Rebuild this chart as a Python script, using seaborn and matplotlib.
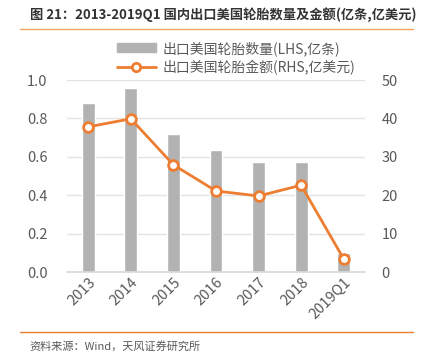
import matplotlib
matplotlib.use("Agg")
import matplotlib.pyplot as plt
import seaborn as sns
import pandas as pd
from matplotlib.lines import Line2D
from matplotlib.patches import Patch

# データ
years = ['2013', '2014', '2015', '2016', '2017', '2018', '2019Q1']
qty = [0.88, 0.957, 0.72, 0.635, 0.575, 0.575, 0.10]      # 亿条
amount = [37.8, 39.9, 27.9, 21.1, 19.8, 22.6, 3.4]      # 亿美元

sns.set_theme(style="white")
plt.rcParams['font.family'] = ['Noto Sans CJK SC', 'DejaVu Sans']

df = pd.DataFrame({'year': years, 'qty': qty, 'amount': amount})

fig = plt.figure(figsize=(4.22, 3.58), dpi=100)
ax = fig.add_axes([67 / 422, 1 - 272 / 358, 298 / 422, 192 / 358])

grey = '#B2B2B2'
orange = '#ED7D31'
tick_c = '#595959'

sns.barplot(data=df, x='year', y='qty', color=grey, width=0.3,
            saturation=1, ax=ax, zorder=2)
ax.set_ylim(0, 1.0)
ax.set_yticks([0, 0.2, 0.4, 0.6, 0.8, 1.0])
ax.set_yticklabels([f"{v:.1f}" for v in [0, 0.2, 0.4, 0.6, 0.8, 1.0]])
ax.grid(axis='y', color='#E3E3E3', lw=1, zorder=0)
ax.set_axisbelow(True)
ax.set_xlabel('')
ax.set_ylabel('')
for s in ['top', 'right', 'left']:
    ax.spines[s].set_visible(False)
ax.spines['bottom'].set_color('#D9D9D9')
ax.tick_params(axis='y', colors=tick_c, labelsize=10.5, length=0, pad=14)
ax.tick_params(axis='x', colors=tick_c, labelsize=10.5, length=0, pad=2)
for lbl in ax.get_xticklabels():
    lbl.set_rotation(45)
    lbl.set_ha('right')
    lbl.set_rotation_mode('anchor')

ax2 = ax.twinx()
sns.lineplot(data=df, x='year', y='amount', color=orange, lw=2,
             marker='o', markersize=7, markerfacecolor='white',
             markeredgecolor=orange, markeredgewidth=2, ax=ax2, zorder=3)
ax2.set_ylim(0, 50)
ax2.set_yticks([0, 10, 20, 30, 40, 50])
ax2.set_ylabel('')
for s in ['top', 'right', 'left', 'bottom']:
    ax2.spines[s].set_visible(False)
ax2.tick_params(axis='y', colors=tick_c, labelsize=10.5, length=0, pad=12)
ax.set_xlim(-0.5, len(years) - 0.5)

# 凡例
handles = [Patch(color=grey, label='出口美国轮胎数量(LHS,亿条)'),
           Line2D([0], [0], color=orange, lw=2, marker='o', markersize=6,
                  markerfacecolor='white', markeredgecolor=orange,
                  markeredgewidth=2, label='出口美国轮胎金额(RHS,亿美元)')]
fig.legend(handles=handles, loc='upper center', bbox_to_anchor=(0.56, 0.905),
           frameon=False, fontsize=10, labelcolor=tick_c, handlelength=2.8,
           handleheight=0.6, labelspacing=0.3, borderpad=0, handletextpad=0.5)

# タイトルと枠線
fig.text(0.07, 1 - 15 / 358, '图 21：2013-2019Q1 国内出口美国轮胎数量及金额(亿条,亿美元)',
         fontsize=9.5, fontweight='bold', color='#333333', va='center')
fig.add_artist(Line2D([20 / 422, 413 / 422], [1 - 29 / 358] * 2, color='#F4A460', lw=1))
fig.add_artist(Line2D([20 / 422, 413 / 422], [1 - 332 / 358] * 2, color=orange, lw=1))
fig.text(29 / 422, 1 - 346 / 358, '资料来源：Wind，天风证券研究所', fontsize=8,
         color='#595959', va='center')

plt.savefig('out.png', dpi=100)
plt.close(fig)
